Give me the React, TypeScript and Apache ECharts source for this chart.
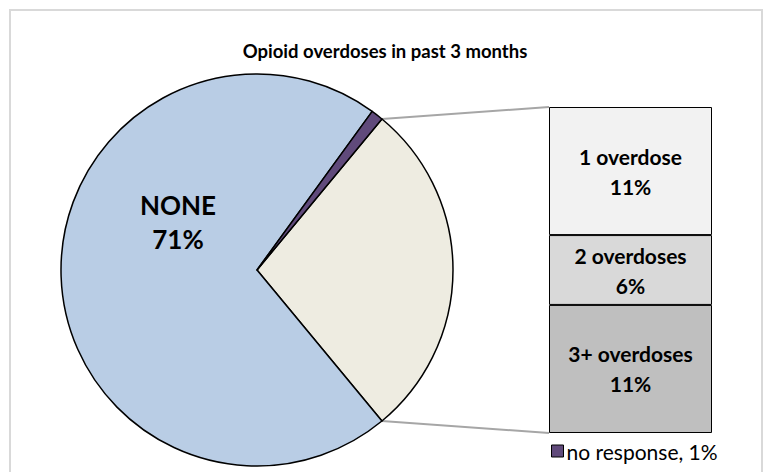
import React, { useEffect, useRef } from "react";
import * as echarts from "echarts";

const titleText = "Opioid overdoses in past 3 months";
const pieCategories = ["NONE", "no response"];
const pieValues = [71, 1];
const barCategories = ["1 overdose", "2 overdoses", "3+ overdoses"];
const barValues = [11, 6, 11];

const FONT = "Lato, 'Open Sans', sans-serif";

export default function App() {
  const ref = useRef<HTMLDivElement>(null);
  useEffect(() => {
    document.body.style.margin = "0";
    const chart = echarts.init(ref.current!, null, { renderer: "svg" });
    const otherTotal = barValues.reduce((a, b) => a + b, 0);
    const total = otherTotal + pieValues.reduce((a, b) => a + b, 0);
    const cx = 257, cy = 270, r = 196;
    const otherSpan = (otherTotal / total) * 360;
    const startAngle = otherSpan / 2;
    const a1 = (startAngle * Math.PI) / 180;
    const a2 = ((startAngle - otherSpan) * Math.PI) / 180;
    const p1 = [cx + r * Math.cos(a1), cy - r * Math.sin(a1)];
    const p2 = [cx + r * Math.cos(a2), cy - r * Math.sin(a2)];
    const gLeft = 549, gTop = 107, gW = 163, gH = 326;

    const barColors = ["#F2F2F2", "#D9D9D9", "#BFBFBF"];
    chart.setOption({
      animation: false,
      backgroundColor: "#fff",
      title: {
        text: titleText,
        left: 385,
        textAlign: "center",
        top: 41,
        padding: 0,
        textStyle: { fontFamily: FONT, fontSize: 18.5, fontWeight: "bold", color: "#000" },
      },
      legend: {
        data: [pieCategories[1]],
        left: 551,
        top: 439,
        padding: 0,
        icon: "rect",
        itemWidth: 12,
        itemHeight: 12,
        itemGap: 4,
        formatter: (n: string) => `${n}, ${pieValues[pieCategories.indexOf(n)]}%`,
        textStyle: { fontFamily: FONT, fontSize: 21, lineHeight: 24, color: "#000", padding: [0, 0, 0, -2] },
        itemStyle: { borderColor: "#000", borderWidth: 1 },
      },
      grid: { left: gLeft, top: gTop, width: gW, height: gH },
      xAxis: { type: "category", data: ["all"], show: false },
      yAxis: { type: "value", min: 0, max: otherTotal, inverse: true, show: false },
      graphic: [
        {
          type: "rect",
          shape: { x: 10, y: 10, width: 752, height: 480 },
          style: { fill: "none", stroke: "#D9D9D9", lineWidth: 2 },
          silent: true,
        },
        {
          type: "line",
          shape: { x1: p1[0], y1: p1[1], x2: gLeft, y2: gTop },
          style: { stroke: "#A6A6A6", lineWidth: 2 },
        },
        {
          type: "line",
          shape: { x1: p2[0], y1: p2[1], x2: gLeft, y2: gTop + gH },
          style: { stroke: "#A6A6A6", lineWidth: 2 },
        },
      ],
      series: [
        {
          type: "pie",
          center: [cx, cy],
          radius: r,
          startAngle,
          clockwise: true,
          avoidLabelOverlap: false,
          itemStyle: { borderColor: "#000", borderWidth: 1.5 },
          label: { show: false },
          labelLine: { show: false },
          labelLayout: (p: any) =>
            p.dataIndex === 1 ? { x: 178, y: 222, align: "center", verticalAlign: "middle" } : {},
          data: [
            { name: "other", value: otherTotal, itemStyle: { color: "#EEECE1" } },
            {
              name: pieCategories[0],
              value: pieValues[0],
              itemStyle: { color: "#B9CDE5" },
              label: {
                show: true,
                formatter: `${pieCategories[0]}\n${pieValues[0]}%`,
                fontFamily: FONT,
                fontWeight: "bold",
                fontSize: 26,
                lineHeight: 34,
                color: "#000",
              },
            },
            { name: pieCategories[1], value: pieValues[1], itemStyle: { color: "#604A7B" } },
          ],
        },
        ...barCategories.map((c, i) => ({
          type: "bar",
          name: c,
          stack: "s",
          barWidth: "100%",
          data: [barValues[i]],
          itemStyle: { color: barColors[i], borderColor: "#000", borderWidth: 1 },
          label: {
            show: true,
            position: "inside",
            formatter: `${c}\n${barValues[i]}%`,
            fontFamily: FONT,
            fontWeight: "bold",
            fontSize: 21,
            lineHeight: 30,
            color: "#000",
          },
        })),
      ],
    });
    return () => chart.dispose();
  }, []);
  return <div ref={ref} style={{ width: 765, height: 472 }} />;
}
